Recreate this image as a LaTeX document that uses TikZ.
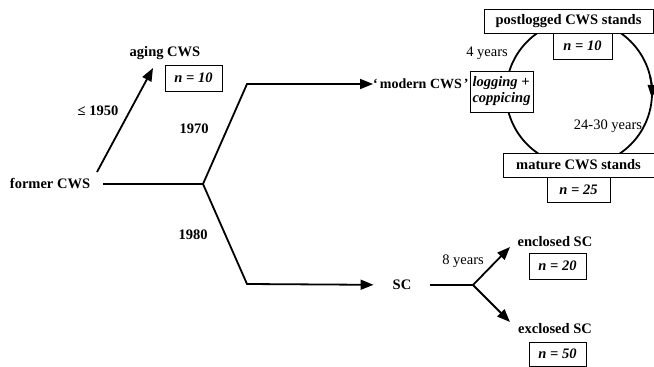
\documentclass[tikz,border=0pt]{standalone}
\usepackage{fontspec}
\setmainfont{Liberation Serif}
\usetikzlibrary{arrows.meta}
\begin{document}
\begin{tikzpicture}[x=1pt,y=-1pt]
\tikzset{lab/.style={font=\fontsize{14.5}{17}\selectfont\bfseries, inner sep=1pt},
  plain/.style={font=\fontsize{14.5}{17}\selectfont, inner sep=1pt},
  nbox/.style={draw, line width=0.8pt, fill=white, font=\fontsize{14.5}{17}\selectfont\bfseries\itshape, inner sep=0pt, minimum width=57pt, minimum height=26pt},
  stbox/.style={draw, line width=0.8pt, fill=white, font=\fontsize{14.5}{17}\selectfont\bfseries, inner sep=0pt, minimum height=24pt},
  link/.style={line width=1.8pt},
  arr/.style={line width=1.8pt, -{Triangle[length=13pt,width=10pt]}}}
\useasboundingbox (0,0) rectangle (654,367);
\node[lab, inner xsep=13pt] (former) at (50,184) {former CWS};
\coordinate (fork) at (203,184);
\coordinate (bendup) at (247,84);
\coordinate (benddown) at (247,284);
\draw[link] (former) -- (fork);
\node[lab] (aging) at (165,53) {aging CWS};
\node[nbox] (agingn) at (193.5,78) {n = 10};
\coordinate (agingfrom) at (97,172);
\coordinate (agingto) at (153,68);
\draw[arr] (agingfrom) -- (agingto);
\node[lab] (le1950) at (98,111) {≤ 1950};
\node[lab] (y1970) at (194,129) {1970};
\node[lab] (y1980) at (193,235) {1980};
\node[lab, font=\fontsize{14}{17}\selectfont\bfseries, inner sep=0pt, anchor=west] (modern) at (373,84) {‘\kern2pt modern CWS\kern2pt ’};
\draw[arr] (fork) -- (bendup) -- (modern);
\coordinate (cycle) at (579,93);
\draw[link] (cycle) circle[radius=73];
\draw[arr] ([shift={(-14:73)}]cycle) arc[start angle=-14, end angle=4, radius=73];
\node[stbox, minimum width=169pt] (postlogged) at (568.5,21) {postlogged CWS stands};
\node[nbox, minimum width=59pt] (postn) at (582.5,46) {n = 10};
\node[plain] (four) at (487,53) {4 years};
\node[draw, line width=0.8pt, fill=white, font=\fontsize{14.5}{16}\selectfont\bfseries\itshape, align=left, inner sep=0pt, minimum width=63pt, minimum height=41pt] (logging) at (501.5,91.5) {logging +\\coppicing};
\node[plain] (span) at (608,126) {24-30 years};
\node[stbox, minimum width=151pt] (mature) at (578.5,165) {mature CWS stands};
\node[nbox, minimum width=63pt, minimum height=25pt] (maturen) at (578.5,189.5) {n = 25};
\node[lab, inner xsep=19pt] (sc) at (402,285) {SC};
\draw[arr] (fork) -- (benddown) -- (sc);
\coordinate (scfork) at (473,285);
\draw[link] (sc) -- (scfork);
\coordinate (enclosedtip) at (510,247);
\coordinate (exclosedtip) at (510,322);
\draw[arr] (scfork) -- (enclosedtip);
\draw[arr] (scfork) -- (exclosedtip);
\node[plain] (eight) at (463,261) {8 years};
\node[lab] (enclosed) at (555,242) {enclosed SC};
\node[nbox] (enclosedn) at (557.5,266) {n = 20};
\node[lab] (exclosed) at (555,329) {exclosed SC};
\node[nbox, minimum height=24pt] (exclosedn) at (557.5,354) {n = 50};
\end{tikzpicture}
\end{document}
